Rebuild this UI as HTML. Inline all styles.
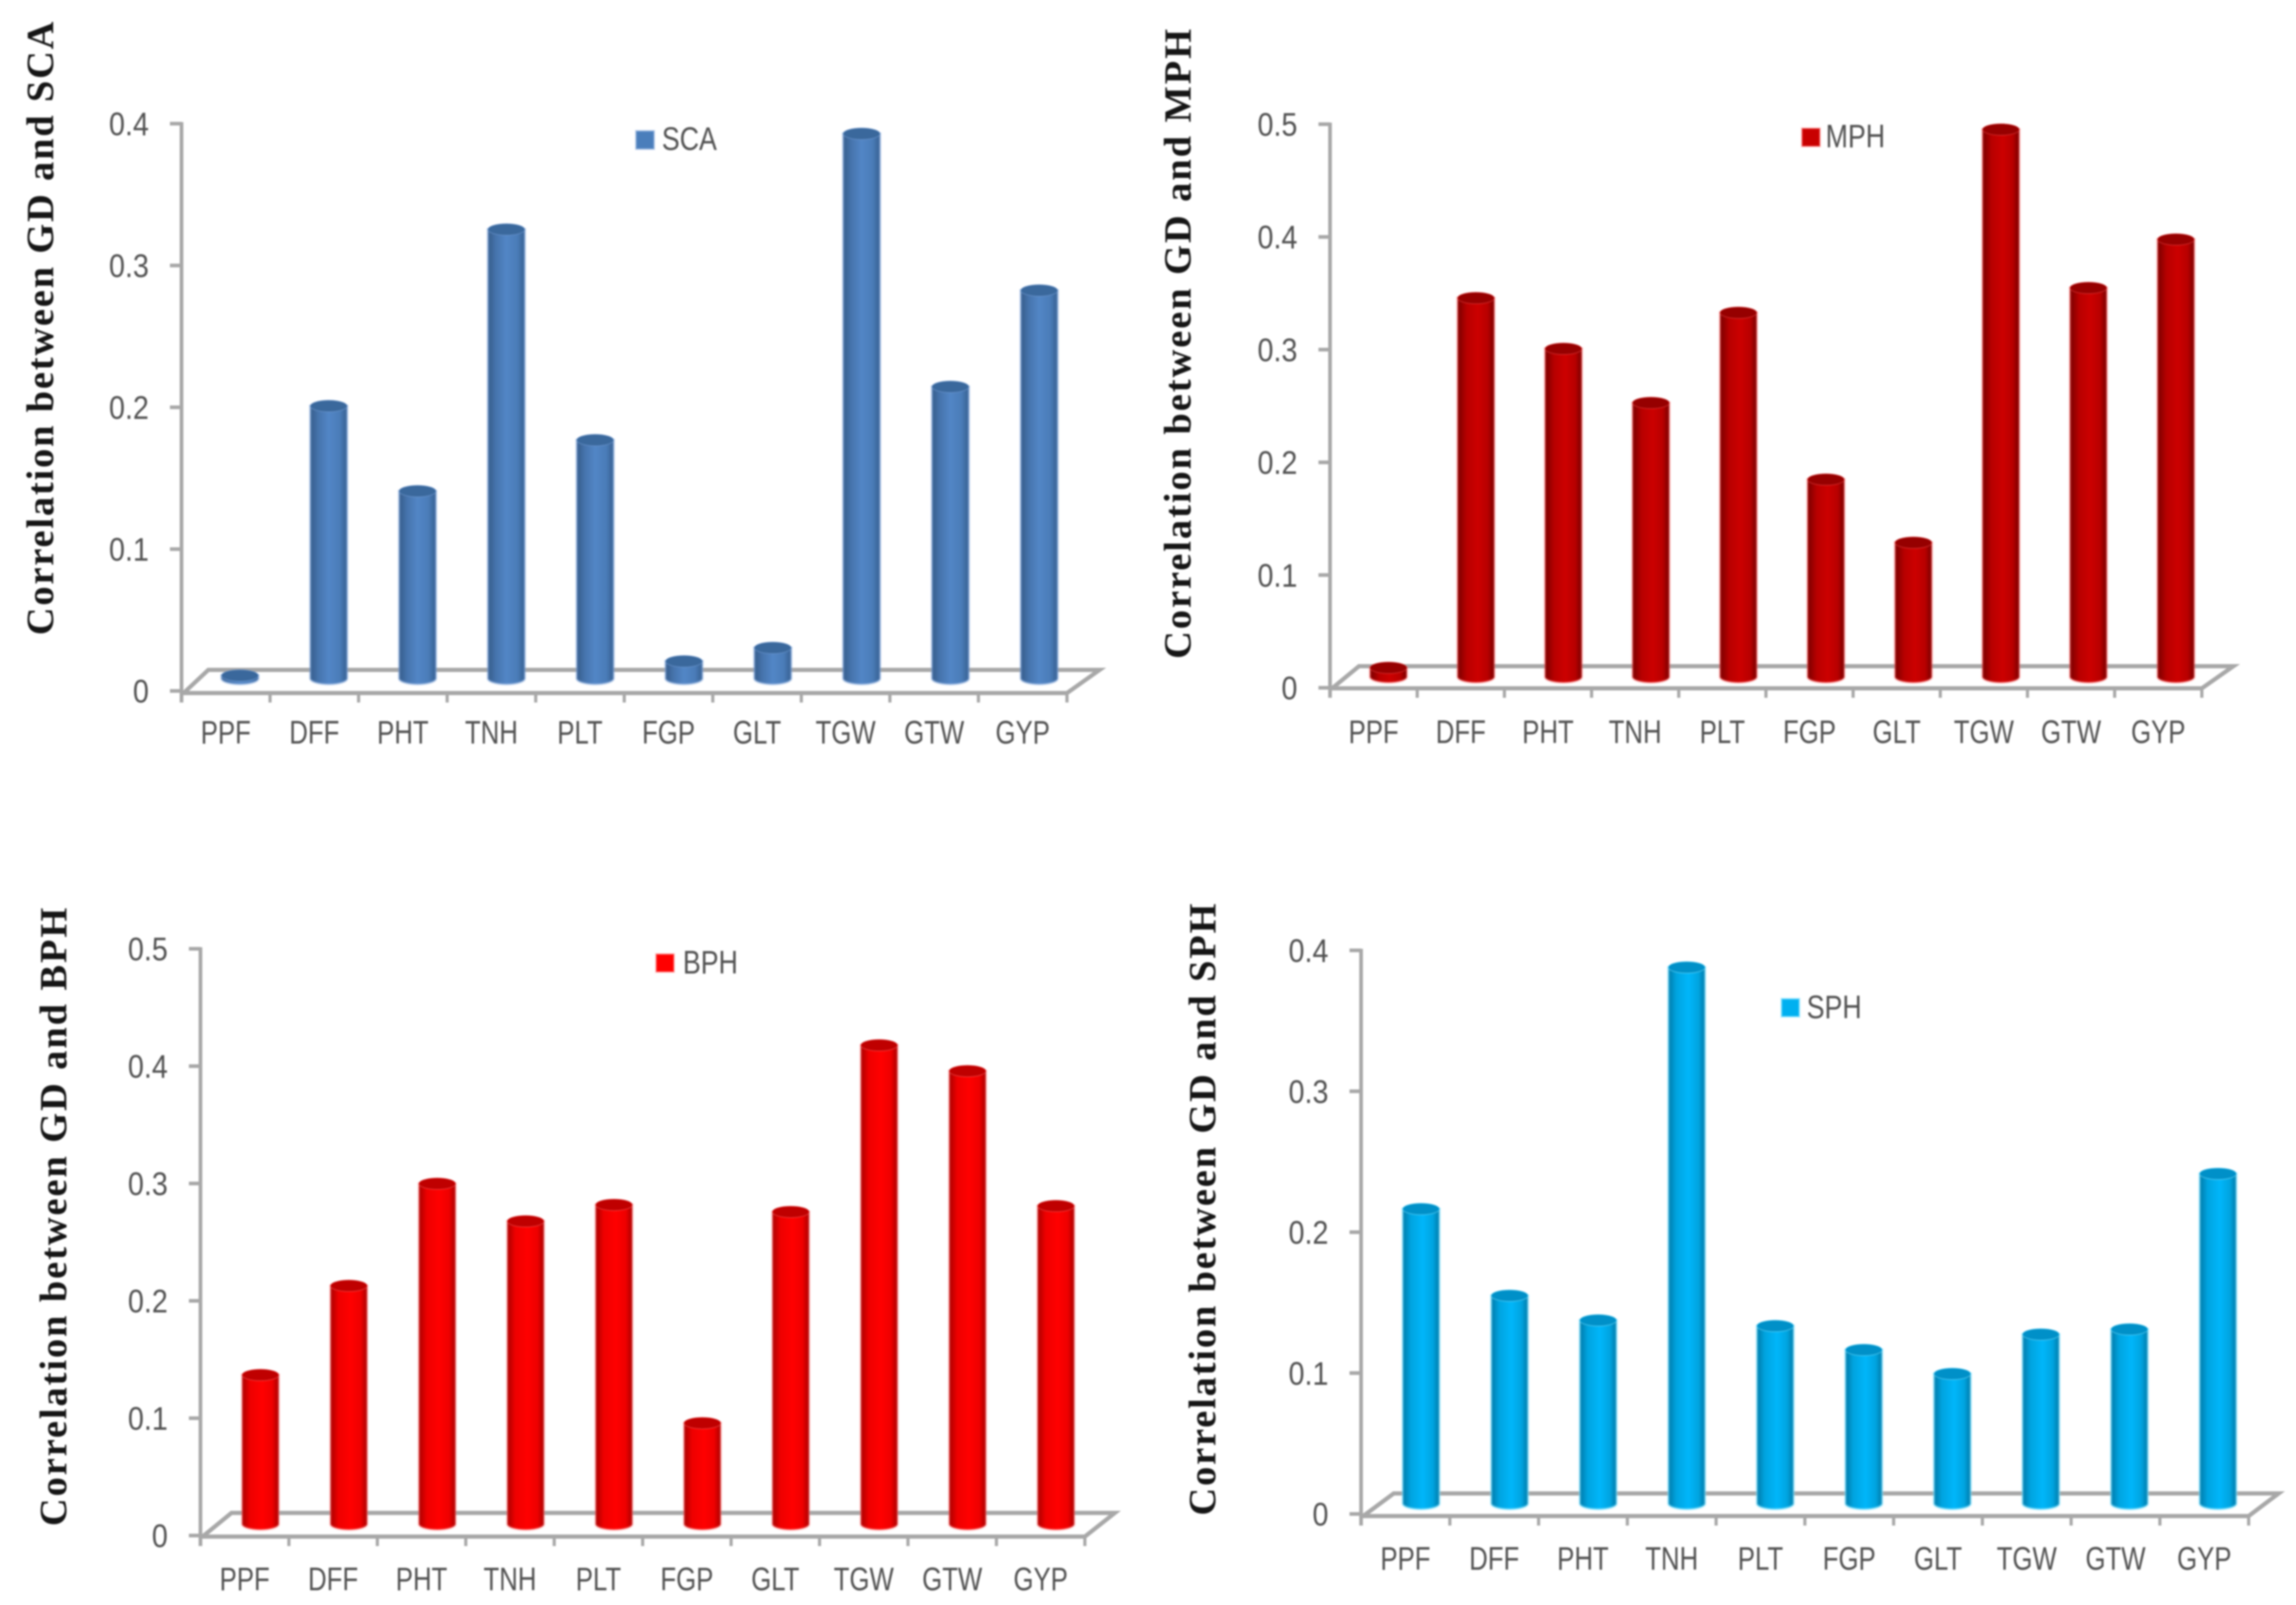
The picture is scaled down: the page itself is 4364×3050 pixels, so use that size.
<!DOCTYPE html>
<html>
<head>
<meta charset="utf-8">
<title>Correlation between GD and heterosis</title>
<style>
html,body{margin:0;padding:0;background:#fff;}
#figure{position:absolute;left:0;top:0;width:4364px;height:3050px;filter:blur(1.5px);}
.tick-text{font-family:"Liberation Sans",sans-serif;font-size:62px;fill:#525252;}
.title-text{font-family:"Liberation Serif",serif;font-weight:bold;font-size:73px;fill:#161616;}
</style>
</head>
<body>
<svg id="figure" xmlns="http://www.w3.org/2000/svg" width="4364" height="3050" viewBox="0 0 4364 3050">
  <defs>
    <linearGradient id="grad-sca" x1="0" x2="1" y1="0" y2="0"><stop offset="0" stop-color="#365c8a"/><stop offset=".22" stop-color="#4674ad"/><stop offset=".5" stop-color="#5286c6"/><stop offset=".8" stop-color="#4a7cb8"/><stop offset="1" stop-color="#365f90"/></linearGradient>
    <linearGradient id="grad-mph" x1="0" x2="1" y1="0" y2="0"><stop offset="0" stop-color="#780000"/><stop offset=".25" stop-color="#b80000"/><stop offset=".55" stop-color="#cc0000"/><stop offset=".82" stop-color="#b80000"/><stop offset="1" stop-color="#760000"/></linearGradient>
    <linearGradient id="grad-bph" x1="0" x2="1" y1="0" y2="0"><stop offset="0" stop-color="#a80000"/><stop offset=".22" stop-color="#ee0000"/><stop offset=".55" stop-color="#ff0000"/><stop offset=".82" stop-color="#ee0000"/><stop offset="1" stop-color="#a80000"/></linearGradient>
    <linearGradient id="grad-sph" x1="0" x2="1" y1="0" y2="0"><stop offset="0" stop-color="#0079a8"/><stop offset=".22" stop-color="#00a4e0"/><stop offset=".55" stop-color="#00b6fa"/><stop offset=".82" stop-color="#00a4e0"/><stop offset="1" stop-color="#0079a8"/></linearGradient>
  </defs>
  <g id="charts"></g>
</svg>
<script>
const categories = ["PPF","DFF","PHT","TNH","PLT","FGP","GLT","TGW","GTW","GYP"];
const scaValues = [0.002,0.192,0.132,0.3165,0.168,0.012,0.0215,0.384,0.2056,0.2735];
const mphValues = [0.008,0.336,0.291,0.243,0.323,0.175,0.119,0.4855,0.345,0.388];
const bphValues = [0.127,0.203,0.290,0.258,0.272,0.086,0.266,0.408,0.386,0.271];
const sphValues = [0.209,0.1475,0.130,0.3805,0.126,0.109,0.092,0.120,0.1236,0.234];
const scaTicks = [0,0.1,0.2,0.3,0.4];
const mphTicks = [0,0.1,0.2,0.3,0.4,0.5];
const bphTicks = [0,0.1,0.2,0.3,0.4,0.5];
const sphTicks = [0,0.1,0.2,0.3,0.4];

const NS = "http://www.w3.org/2000/svg";
const root = document.getElementById("charts");

function make(parent, tag, attrs) {
  const el = document.createElementNS(NS, tag);
  for (const k in attrs) el.setAttribute(k, attrs[k]);
  parent.appendChild(el);
  return el;
}

function drawChart(cfg) {
  const g = make(root, "g", {});
  
  

  const tickMax = cfg.ticks[cfg.ticks.length - 1];
  const unit = (cfg.zeroY - cfg.topY) / tickMax;
  const axisY = v => cfg.zeroY - v * unit;
  const barTopY = v => cfg.baseY - v * unit;
  const catTickX = i => cfg.axisX + i * (cfg.frontRight - cfg.axisX) / categories.length;
  const barX = i => cfg.firstBar + i * cfg.barStep;

  const gray = "#a8a8a8";

  // floor
  const floor = make(g, "polyline", {
    points: [cfg.axisX + 4, cfg.frontY, cfg.backLeft, cfg.backY, cfg.backRight, cfg.backY, cfg.frontRight, cfg.frontY, cfg.axisX, cfg.frontY].join(" "),
    fill: "none", stroke: gray, "stroke-width": 8
  });
  
  

  // y axis
  const yAxis = make(g, "line", {x1: cfg.axisX, x2: cfg.axisX, y1: cfg.topY - 3, y2: cfg.frontY + 18, stroke: gray, "stroke-width": 7});
  
  

  cfg.ticks.forEach(t => {
    const y = axisY(t);
    const mark = make(g, "line", {x1: cfg.axisX - 22, x2: cfg.axisX, y1: y, y2: y, stroke: gray, "stroke-width": 7});
    
    
    const label = make(g, "text", {class: "tick-text", "text-anchor": "end", transform: "translate(" + (cfg.axisX - 62) + "," + (y + 22) + ") scale(0.88,1)"});
    label.textContent = String(t);
    
    
  });

  // x ticks and labels
  for (let i = 0; i <= categories.length; i++) {
    const x = catTickX(i);
    const mark = make(g, "line", {x1: x, x2: x, y1: cfg.frontY, y2: cfg.frontY + 18, stroke: gray, "stroke-width": 6});
    
    
  }
  categories.forEach((c, i) => {
    const label = make(g, "text", {class: "tick-text", "text-anchor": "middle", transform: "translate(" + (catTickX(i) + (catTickX(1) - catTickX(0)) / 2 + 0) + "," + cfg.labelY + ") scale(0.79,1)"});
    label.textContent = c;
    
    
  });

  // bars
  const rx = 35, ry = 11;
  cfg.values.forEach((v, i) => {
    const cx = barX(i);
    const top = barTopY(v);
    const bar = make(g, "g", {});
    
    
    make(bar, "path", {
      d: "M" + (cx - rx) + " " + top + " L" + (cx - rx) + " " + cfg.baseY + " A" + rx + " " + ry + " 0 0 0 " + (cx + rx) + " " + cfg.baseY + " L" + (cx + rx) + " " + top + " Z",
      fill: "url(#" + cfg.gradient + ")", stroke: cfg.halo, "stroke-width": 5
    });
    make(bar, "ellipse", {cx: cx, cy: top, rx: rx, ry: ry, fill: cfg.cap, stroke: cfg.halo, "stroke-width": 2});
  });

  // legend
  const legend = make(g, "g", {});
  
  
  make(legend, "rect", {x: cfg.legend[0], y: cfg.legend[1], width: 34, height: 34, fill: cfg.swatch, stroke: cfg.halo, "stroke-width": 4});
  const legendText = make(legend, "text", {class: "tick-text", transform: "translate(" + cfg.legend[2] + "," + cfg.legend[3] + ") scale(0.82,1)"});
  legendText.textContent = cfg.name;

  // y title
  const title = make(g, "text", {
    class: "title-text",
    transform: "translate(" + cfg.title[0] + "," + cfg.title[1] + ") rotate(-90)",
    textLength: cfg.title[2], lengthAdjust: "spacing"
  });
  title.textContent = "Correlation between GD and " + cfg.name;
  
  
}

drawChart({id:"sca", name:"SCA", values:scaValues, ticks:scaTicks, gradient:"grad-sca", cap:"#3a689c", swatch:"#4a7ebb", halo:"rgba(120,160,215,.45)",
  axisX:345, topY:235, zeroY:1313, frontY:1317, backY:1273, backLeft:396, backRight:2090, frontRight:2028,
  baseY:1289, firstBar:456, barStep:168.8, labelY:1413, legend:[1209,249,1258,285], title:[101,1207,1166]});
drawChart({id:"mph", name:"MPH", values:mphValues, ticks:mphTicks, gradient:"grad-mph", cap:"#960000", swatch:"#c80000", halo:"rgba(255,90,90,.35)",
  axisX:2528, topY:236, zeroY:1307, frontY:1308, backY:1266, backLeft:2583, backRight:4245, frontRight:4185,
  baseY:1286, firstBar:2639, barStep:166.3, labelY:1412, legend:[3425,244,3470,280], title:[2263,1252,1197]});
drawChart({id:"bph", name:"BPH", values:bphValues, ticks:bphTicks, gradient:"grad-bph", cap:"#bf0000", swatch:"#ff0000", halo:"rgba(255,120,120,.35)",
  axisX:381, topY:1803, zeroY:2918, frontY:2920, backY:2875, backLeft:440, backRight:2119, frontRight:2062,
  baseY:2896, firstBar:495, barStep:168, labelY:3022, legend:[1247,1813,1298,1850], title:[126,2900,1175]});
drawChart({id:"sph", name:"SPH", values:sphValues, ticks:sphTicks, gradient:"grad-sph", cap:"#0090c8", swatch:"#00b0f0", halo:"rgba(120,225,255,.45)",
  axisX:2587, topY:1806, zeroY:2877, frontY:2881, backY:2838, backLeft:2649, backRight:4331, frontRight:4274,
  baseY:2857, firstBar:2701, barStep:168.3, labelY:2983, legend:[3386,1898,3434,1935], title:[2310,2880,1163]});
</script>
</body>
</html>
